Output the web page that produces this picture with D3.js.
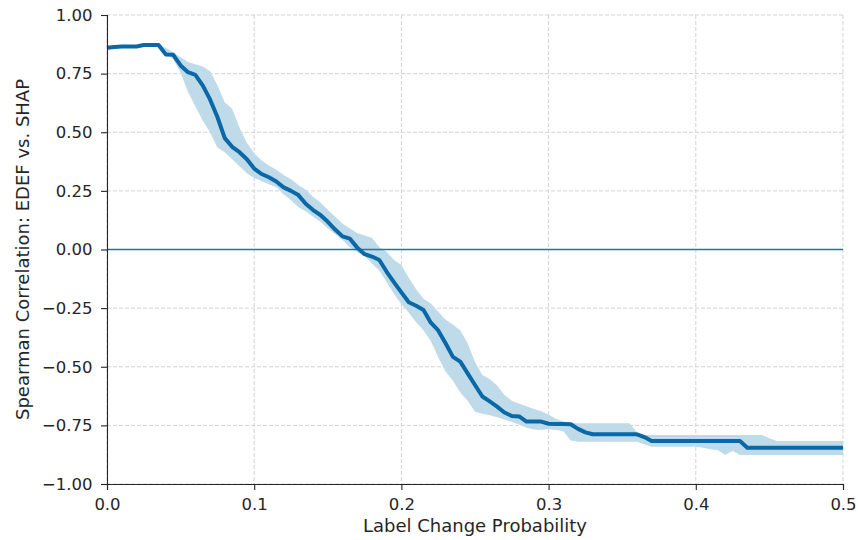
<!DOCTYPE html>
<html>
<head>
<meta charset="utf-8">
<script src="https://cdn.jsdelivr.net/npm/d3@7"></script>
<style>
  body { margin: 0; background: #fff; }
  svg { display: block; font-family: "DejaVu Sans", sans-serif; }
  .grid line { stroke: #d3d3d3; stroke-dasharray: 4,2; }
  .axis path, .axis line { stroke: #262626; stroke-width: 1.1; }
  .axis text { fill: #262626; font-size: 16.5px; font-family: "DejaVu Sans", sans-serif; }
</style>
</head>
<body>
<div id="chart"></div>
<script>
// label change probability (x grid)
const probs = [
  0.000, 0.005, 0.010, 0.015, 0.020, 0.025, 0.030, 0.035, 0.040, 0.045,
  0.050, 0.055, 0.060, 0.065, 0.070, 0.075, 0.080, 0.085, 0.090, 0.095,
  0.100, 0.105, 0.110, 0.115, 0.120, 0.125, 0.130, 0.135, 0.140, 0.145,
  0.150, 0.155, 0.160, 0.165, 0.170, 0.175, 0.180, 0.185, 0.190, 0.195,
  0.200, 0.205, 0.210, 0.215, 0.220, 0.225, 0.230, 0.235, 0.240, 0.245,
  0.250, 0.255, 0.260, 0.265, 0.270, 0.275, 0.280, 0.285, 0.290, 0.295,
  0.300, 0.305, 0.310, 0.315, 0.320, 0.325, 0.330, 0.335, 0.340, 0.345,
  0.350, 0.355, 0.360, 0.365, 0.370, 0.375, 0.380, 0.385, 0.390, 0.395,
  0.400, 0.405, 0.410, 0.415, 0.420, 0.425, 0.430, 0.435, 0.440, 0.445,
  0.450, 0.455, 0.460, 0.465, 0.470, 0.475, 0.480, 0.485, 0.490, 0.495,
  0.500
];

// mean spearman correlation
const meanCorr = [
  0.860, 0.864, 0.866, 0.866, 0.866, 0.872, 0.872, 0.872, 0.832, 0.830,
  0.785, 0.756, 0.745, 0.700, 0.640, 0.565, 0.475, 0.438, 0.415, 0.385,
  0.345, 0.322, 0.308, 0.290, 0.265, 0.250, 0.232, 0.195, 0.168, 0.147,
  0.118, 0.085, 0.056, 0.046, 0.008, -0.020, -0.030, -0.045, -0.095, -0.140,
  -0.183, -0.225, -0.240, -0.258, -0.312, -0.345, -0.400, -0.458, -0.478, -0.528,
  -0.578, -0.627, -0.648, -0.670, -0.695, -0.710, -0.712, -0.734, -0.734, -0.734,
  -0.743, -0.744, -0.744, -0.745, -0.765, -0.780, -0.788, -0.788, -0.788, -0.788,
  -0.788, -0.788, -0.788, -0.800, -0.817, -0.817, -0.817, -0.817, -0.817, -0.817,
  -0.817, -0.817, -0.817, -0.817, -0.817, -0.817, -0.817, -0.845, -0.845, -0.845,
  -0.845, -0.845, -0.845, -0.845, -0.845, -0.845, -0.845, -0.845, -0.845, -0.845,
  -0.845
];

// upper edge of the shaded band
const upperCorr = [
  0.860, 0.864, 0.866, 0.866, 0.866, 0.872, 0.872, 0.872, 0.860, 0.840,
  0.820, 0.800, 0.790, 0.780, 0.760, 0.700, 0.627, 0.600, 0.520, 0.455,
  0.410, 0.380, 0.358, 0.340, 0.318, 0.300, 0.275, 0.255, 0.225, 0.200,
  0.170, 0.140, 0.110, 0.090, 0.070, 0.060, 0.050, 0.010, -0.010, -0.045,
  -0.066, -0.120, -0.170, -0.210, -0.230, -0.265, -0.300, -0.320, -0.345, -0.400,
  -0.480, -0.535, -0.553, -0.580, -0.620, -0.645, -0.658, -0.668, -0.680, -0.690,
  -0.705, -0.722, -0.734, -0.738, -0.741, -0.741, -0.741, -0.741, -0.741, -0.741,
  -0.741, -0.741, -0.780, -0.791, -0.791, -0.791, -0.791, -0.791, -0.791, -0.791,
  -0.791, -0.791, -0.791, -0.791, -0.791, -0.791, -0.791, -0.791, -0.791, -0.791,
  -0.805, -0.817, -0.817, -0.817, -0.817, -0.817, -0.817, -0.817, -0.817, -0.817,
  -0.817
];

// lower edge of the shaded band
const lowerCorr = [
  0.860, 0.864, 0.866, 0.866, 0.866, 0.872, 0.872, 0.872, 0.840, 0.810,
  0.755, 0.673, 0.610, 0.550, 0.500, 0.435, 0.415, 0.385, 0.355, 0.325,
  0.305, 0.292, 0.278, 0.265, 0.236, 0.210, 0.180, 0.163, 0.140, 0.118,
  0.090, 0.065, 0.040, 0.010, -0.012, -0.028, -0.060, -0.090, -0.140, -0.190,
  -0.233, -0.270, -0.310, -0.345, -0.390, -0.460, -0.520, -0.560, -0.610, -0.645,
  -0.692, -0.700, -0.707, -0.715, -0.725, -0.736, -0.746, -0.760, -0.768, -0.770,
  -0.765, -0.770, -0.775, -0.815, -0.820, -0.820, -0.820, -0.820, -0.820, -0.820,
  -0.820, -0.820, -0.820, -0.830, -0.841, -0.841, -0.841, -0.841, -0.841, -0.841,
  -0.841, -0.845, -0.852, -0.856, -0.876, -0.858, -0.876, -0.876, -0.876, -0.876,
  -0.876, -0.876, -0.876, -0.876, -0.876, -0.876, -0.876, -0.876, -0.876, -0.876,
  -0.876
];

const xTicks = [0, 0.1, 0.2, 0.3, 0.4, 0.5];
const yTicks = [-1, -0.75, -0.5, -0.25, 0, 0.25, 0.5, 0.75, 1];

const W = 858, H = 540;
const margin = { top: 15, right: 15, bottom: 56, left: 107 };
const width = W - margin.left - margin.right;
const height = H - margin.top - margin.bottom;

const lineColor = "#0a68a6";
const bandColor = "#bfdae8";

const rows = probs.map((p, i) => ({
  p: p, mean: meanCorr[i], lo: lowerCorr[i], hi: upperCorr[i]
}));

const svg = d3.select("#chart").append("svg")
  .attr("width", W)
  .attr("height", H);

const g = svg.append("g")
  .attr("transform", `translate(${margin.left},${margin.top})`);

const xScale = d3.scaleLinear().domain([0, 0.5]).range([0, width]);
const yScale = d3.scaleLinear().domain([-1, 1]).range([height, 0]);

// dashed grid
g.append("g").attr("class", "grid")
  .selectAll("line").data(xTicks).join("line")
  .attr("x1", d => xScale(d)).attr("x2", d => xScale(d))
  .attr("y1", 0).attr("y2", height);

g.append("g").attr("class", "grid")
  .selectAll("line").data(yTicks).join("line")
  .attr("x1", 0).attr("x2", width)
  .attr("y1", d => yScale(d)).attr("y2", d => yScale(d));

// band
g.append("path")
  .datum(rows)
  .attr("fill", bandColor)
  .attr("d", d3.area()
    .x(d => xScale(d.p))
    .y0(d => yScale(d.lo))
    .y1(d => yScale(d.hi)));

// zero line
g.append("line")
  .attr("x1", 0).attr("x2", width)
  .attr("y1", yScale(0)).attr("y2", yScale(0))
  .attr("stroke", "#2373a8")
  .attr("stroke-width", 1.3);

// mean line
g.append("path")
  .datum(rows)
  .attr("fill", "none")
  .attr("stroke", lineColor)
  .attr("stroke-width", 4)
  .attr("stroke-linejoin", "round")
  .attr("d", d3.line()
    .x(d => xScale(d.p))
    .y(d => yScale(d.mean)));

// axes
g.append("g")
  .attr("class", "axis")
  .attr("transform", `translate(0,${height})`)
  .call(d3.axisBottom(xScale).tickValues(xTicks).tickFormat(d3.format(".1f"))
    .tickSizeOuter(0).tickSize(6).tickPadding(8));

g.append("g")
  .attr("class", "axis")
  .call(d3.axisLeft(yScale).tickValues(yTicks).tickFormat(d3.format(".2f"))
    .tickSizeOuter(0).tickSize(6).tickPadding(8.5));

// use a real minus sign like matplotlib
g.selectAll(".axis text").text(function () {
  return d3.select(this).text().replace("-", "\u2212");
});

// axis labels
svg.append("text")
  .attr("x", margin.left + width / 2)
  .attr("y", 532)
  .attr("text-anchor", "middle")
  .attr("fill", "#262626")
  .style("font-size", "18px")
  .text("Label Change Probability");

svg.append("text")
  .attr("transform", `translate(29,${margin.top + height / 2}) rotate(-90)`)
  .attr("text-anchor", "middle")
  .attr("fill", "#262626")
  .style("font-size", "18px")
  .text("Spearman Correlation: EDEF vs. SHAP");
</script>
</body>
</html>
